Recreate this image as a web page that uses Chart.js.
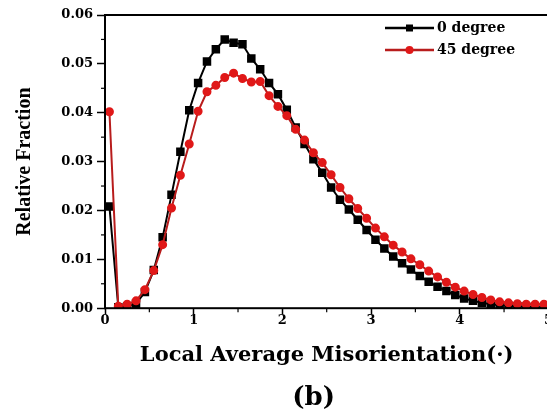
<!DOCTYPE html>
<html><head><meta charset="utf-8">
<script src="https://cdn.jsdelivr.net/npm/chart.js@4.4.1/dist/chart.umd.min.js"></script>
<style>
html,body{margin:0;padding:0;background:#fff;overflow:hidden;width:547px;height:412px;}
#wrap{position:absolute;left:0;top:0;width:555px;height:412px;}
</style></head><body>
<div id="wrap"><canvas id="c"></canvas></div>
<script>
const xValues = [0.05,0.15,0.25,0.35,0.45,0.55,0.65,0.75,0.85,0.95,
  1.05,1.15,1.25,1.35,1.45,1.55,1.65,1.75,1.85,1.95,
  2.05,2.15,2.25,2.35,2.45,2.55,2.65,2.75,2.85,2.95,
  3.05,3.15,3.25,3.35,3.45,3.55,3.65,3.75,3.85,3.95,
  4.05,4.15,4.25,4.35,4.45,4.55,4.65,4.75,4.85,4.95];
const zeroDegree = [0.0208,0.0002,0.0004,0.0009,0.0033,0.0078,0.0145,0.0232,0.0320,0.0405,
  0.0461,0.0505,0.0530,0.0550,0.0543,0.0540,0.0511,0.0489,0.0461,0.0438,
  0.0406,0.0370,0.0336,0.0305,0.0277,0.0247,0.0222,0.0202,0.0181,0.0160,
  0.0140,0.0122,0.0106,0.0092,0.0079,0.0066,0.0054,0.0044,0.0035,0.0027,
  0.0020,0.0015,0.0011,0.0008,0.0006,0.0005,0.0004,0.0003,0.0002,0.0002];
const fortyFiveDegree = [0.0402,0.0004,0.0008,0.0015,0.0038,0.0077,0.0130,0.0205,0.0272,0.0336,
  0.0403,0.0443,0.0456,0.0472,0.0481,0.0470,0.0463,0.0464,0.0435,0.0413,
  0.0394,0.0366,0.0344,0.0318,0.0298,0.0273,0.0247,0.0224,0.0204,0.0184,
  0.0164,0.0146,0.0129,0.0115,0.0101,0.0089,0.0076,0.0064,0.0053,0.0043,
  0.0035,0.0028,0.0022,0.0017,0.0013,0.0011,0.0009,0.0008,0.0008,0.0008];
const seriesLabels = ['0 degree', '45 degree'];
const xTickValues = [0, 1, 2, 3, 4, 5];
const yTickValues = [0.00, 0.01, 0.02, 0.03, 0.04, 0.05, 0.06];
const xTitle = 'Local Average Misorientation(\u00b7)';
const yTitle = 'Relative Fraction';
const caption = '(b)';

const toPts = (ys) => xValues.map((x, i) => ({x: x, y: ys[i]}));
const RED_LINE = '#b81c1c', RED_PT = '#e01818';
const tickFont = {family: 'DejaVu Serif', weight: 'bold', size: 13};

const framePlugin = {
  id: 'frame',
  afterDraw(chart) {
    const {ctx, chartArea: ca, scales} = chart;
    ctx.save();
    ctx.strokeStyle = '#000';
    ctx.lineWidth = 2;
    ctx.strokeRect(ca.left, ca.top, ca.right - ca.left, ca.bottom - ca.top);
    ctx.lineWidth = 1.2;
    const ys = scales.y.ticks.map(t => t.value);
    for (let i = 0; i < ys.length - 1; i++) {
      const p = scales.y.getPixelForValue((ys[i] + ys[i + 1]) / 2);
      ctx.beginPath(); ctx.moveTo(ca.left - 4, p); ctx.lineTo(ca.left, p); ctx.stroke();
    }
    const xs = scales.x.ticks.map(t => t.value);
    for (let i = 0; i < xs.length - 1; i++) {
      const p = scales.x.getPixelForValue((xs[i] + xs[i + 1]) / 2);
      ctx.beginPath(); ctx.moveTo(p, ca.bottom); ctx.lineTo(p, ca.bottom + 4); ctx.stroke();
    }
    ctx.font = 'bold 14px "DejaVu Serif"';
    ctx.textBaseline = 'middle';
    chart.data.datasets.forEach((ds, i) => {
      const y = ca.top + 13 + i * 22;
      const x0 = ca.left + 280, x1 = x0 + 49, xm = (x0 + x1) / 2;
      ctx.strokeStyle = ds.borderColor; ctx.lineWidth = 2.5;
      ctx.beginPath(); ctx.moveTo(x0, y); ctx.lineTo(x1, y); ctx.stroke();
      ctx.fillStyle = ds.pointBackgroundColor;
      if (ds.pointStyle === 'rect') { ctx.fillRect(xm - 3.5, y - 3.5, 7, 7); }
      else { ctx.beginPath(); ctx.arc(xm, y, 4, 0, Math.PI * 2); ctx.fill(); }
      ctx.fillStyle = '#000';
      ctx.textAlign = 'left';
      ctx.fillText(ds.label, x1 + 3, y);
    });
    ctx.font = 'bold 26px "DejaVu Serif"';
    ctx.textAlign = 'center';
    ctx.fillStyle = '#000';
    ctx.fillText(caption, (ca.left + ca.right) / 2 - 13, 398);
    ctx.restore();
  }
};

new Chart(document.getElementById('c'), {
  type: 'line',
  data: {
    datasets: [
      {label: seriesLabels[0], data: toPts(zeroDegree), borderColor: '#000', backgroundColor: '#000',
       pointBackgroundColor: '#000', pointBorderColor: '#000', pointStyle: 'rect', pointRadius: 4.6,
       borderWidth: 2, tension: 0, order: 1},
      {label: seriesLabels[1], data: toPts(fortyFiveDegree), borderColor: RED_LINE, backgroundColor: RED_PT,
       pointBackgroundColor: RED_PT, pointBorderColor: RED_PT, pointStyle: 'circle', pointRadius: 3.5,
       borderWidth: 2, tension: 0, order: 0}
    ]
  },
  options: {
    responsive: true, maintainAspectRatio: false, animation: false,
    layout: {padding: {top: 15, left: 0, right: 0, bottom: 44}},
    plugins: {legend: {display: false}, tooltip: {enabled: false}, title: {display: false}},
    scales: {
      x: {
        type: 'linear', min: 0, max: 5,
        afterBuildTicks: (s) => { s.ticks = xTickValues.map(v => ({value: v})); },
        ticks: {font: tickFont, color: '#000', padding: -1, maxRotation: 0,
                callback: (v) => String(v)},
        grid: {drawOnChartArea: false, drawTicks: true, tickLength: 6, tickColor: '#000', tickWidth: 1.5},
        border: {display: false},
        title: {display: true, text: xTitle, color: '#000',
                font: {family: 'DejaVu Serif', weight: 'bold', size: 21}, padding: {top: 15, bottom: 0}}
      },
      y: {
        type: 'linear', min: 0, max: 0.06,
        afterBuildTicks: (s) => { s.ticks = yTickValues.map(v => ({value: v})); },
        afterFit: (s) => { s.width = 105; },
        ticks: {font: tickFont, color: '#000', padding: 4, callback: (v) => v.toFixed(2)},
        grid: {drawOnChartArea: false, drawTicks: true, tickLength: 8, tickColor: '#000', tickWidth: 1.5},
        border: {display: false},
        title: {display: true, text: yTitle, color: '#000',
                font: {family: 'Liberation Serif', weight: 'bold', size: 20}, padding: {top: 13, bottom: 0}}
      }
    }
  },
  plugins: [framePlugin]
});
</script>
</body></html>
